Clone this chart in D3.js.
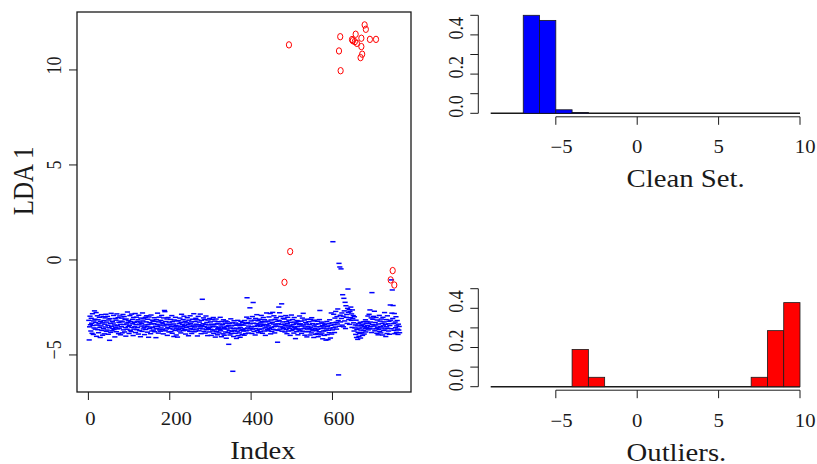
<!DOCTYPE html>
<html>
<head>
<meta charset="utf-8">
<script src="https://cdn.jsdelivr.net/npm/d3@7"></script>
<style>
  body { margin: 0; background: #fff; }
  #chart text { font-family: "Liberation Serif", "DejaVu Serif", serif; }
</style>
</head>
<body>
<svg id="chart" width="817" height="464"></svg>
<script>
// LDA 1 score of the clean set, in index order (1..765)
const cleanLda = [
  -3.18,-4.21,-3.52,-2.96,-3.41,-3.74,-3.07,-3.33,-3.86,-2.83,-3.45,-3.92,-3.21,-3.58,-2.68,-3.12,-3.64,-3.29,-2.77,-4.02,
  -3.43,-2.94,-3.67,-3.15,-3.83,-3.36,-3.02,-3.55,-4.08,-3.24,-3.47,-2.88,-3.71,-3.31,-3.96,-2.99,-3.62,-3.19,-3.89,-3.38,
  -3.05,-3.53,-2.86,-3.76,-3.27,-3.69,-2.97,-3.44,-3.91,-3.16,-3.57,-4.23,-3.09,-3.34,-3.81,-2.81,-3.49,-3.73,-3.23,-3.61,
  -3.32,-2.92,-3.66,-3.42,-4.05,-3.08,-3.54,-3.17,-3.78,-2.84,-3.46,-3.63,-3.04,-3.88,-3.28,-3.59,-2.95,-3.39,-3.94,-3.22,
  -3.51,-3.06,-3.84,-3.26,-2.87,-3.68,-3.40,-2.98,-3.79,-3.14,-3.56,-4.01,-3.11,-3.37,-3.65,-2.74,-3.30,-3.50,-3.20,-3.87,
  -3.44,-2.93,-3.70,-3.25,-3.77,-2.85,-3.55,-3.13,-3.36,-3.98,-3.03,-3.64,-3.28,-3.52,-2.82,-3.82,-3.41,-3.01,-3.67,-3.24,
  -3.56,-3.15,-3.90,-2.91,-3.38,-3.72,-3.27,-4.04,-3.06,-3.48,-3.33,-3.76,-2.79,-3.21,-3.63,-3.10,-3.54,-3.93,-3.42,-3.02,
  -3.66,-3.26,-2.94,-3.50,-3.80,-3.12,-3.40,-4.07,-3.00,-3.61,-3.30,-3.53,-3.88,-2.90,-3.37,-3.74,-3.17,-3.57,-3.22,-3.69,
  -3.35,-3.04,-3.78,-3.23,-3.49,-4.09,-3.14,-3.62,-3.39,-2.80,-3.51,-3.85,-3.26,-3.01,-3.68,-3.43,-3.75,-3.18,-3.58,-2.92,
  -3.29,-3.66,-3.36,-3.89,-3.05,-3.47,-2.66,-2.72,-3.73,-3.24,-3.41,-3.63,-3.11,-3.97,-3.55,-3.03,-3.38,-3.79,-3.27,-3.60,
  -3.42,-3.13,-3.77,-3.50,-2.93,-3.86,-3.25,-3.64,-3.37,-4.03,-3.16,-3.52,-3.71,-3.02,-3.44,-3.95,-3.59,-3.21,-4.06,-3.48,
  -3.19,-3.65,-3.34,-3.74,-3.06,-3.53,-3.84,-3.28,-2.86,-3.61,-3.39,-3.50,-3.14,-3.72,-2.96,-3.45,-3.67,-3.23,-3.90,-3.56,
  -3.31,-3.54,-3.04,-3.69,-3.40,-3.99,-3.17,-3.49,-3.76,-2.94,-3.35,-3.62,-3.26,-3.87,-3.51,-3.12,-3.66,-3.43,-2.83,-3.78,
  -3.53,-3.24,-3.75,-3.07,-3.38,-3.64,-3.15,-4.00,-3.48,-2.97,-3.41,-3.73,-3.27,-3.60,-2.85,-3.52,-3.88,-3.18,-3.44,-2.07,
  -3.63,-3.36,-3.05,-3.76,-3.50,-3.14,-3.85,-3.39,-2.95,-3.67,-3.29,-3.55,-3.98,-3.16,-3.61,-3.42,-3.79,-3.08,-3.54,-3.26,
  -3.65,-3.97,-3.38,-3.13,-3.74,-3.49,-3.03,-3.86,-3.41,-3.68,-3.22,-4.06,-3.52,-3.11,-3.77,-3.35,-3.94,-3.62,-3.25,-3.57,
  -3.84,-3.37,-3.66,-3.02,-3.73,-3.48,-4.04,-3.24,-3.63,-3.40,-3.89,-3.15,-3.55,-3.96,-3.60,-3.33,-3.79,-3.21,-4.12,-3.50,
  -3.64,-3.26,-3.83,-3.45,-4.44,-3.72,-3.35,-3.95,-3.58,-3.10,-3.87,-3.47,-3.76,-3.31,-5.86,-3.61,-4.03,-3.20,-3.70,-3.44,
  -3.86,-3.32,-3.59,-4.13,-3.42,-3.75,-3.18,-3.98,-3.63,-3.37,-3.84,-3.46,-4.07,-3.57,-3.23,-3.71,-3.40,-3.93,-3.30,-3.66,
  -3.74,-3.43,-3.96,-3.19,-3.62,-3.88,-3.34,-3.73,-3.01,-1.99,-3.58,-3.30,-3.85,-3.48,-3.09,-3.69,-2.52,-3.36,-3.60,-3.21,
  -3.52,-3.87,-2.98,-3.64,-2.24,-3.33,-3.76,-3.17,-3.49,-3.95,-3.08,-3.61,-3.35,-2.88,-3.72,-3.44,-3.20,-3.83,-3.38,-3.66,
  -3.12,-3.50,-3.78,-3.31,-2.92,-3.63,-3.24,-3.86,-3.45,-3.03,-3.39,-3.74,-3.15,-3.58,-3.97,-3.26,-3.53,-2.79,-3.41,-3.67,
  -3.22,-3.73,-3.47,-3.00,-3.62,-3.34,-2.82,-3.89,-3.16,-3.55,-3.76,-3.28,-2.76,-3.65,-3.37,-2.94,-3.51,-3.84,-3.13,-3.42,
  -3.68,-3.04,-3.49,-3.23,-4.33,-3.71,-3.36,-2.48,-3.18,-2.78,-3.64,-3.52,-2.97,-3.40,-2.31,-3.75,-3.26,-3.54,-3.07,-3.61,
  -3.38,-3.11,-3.79,-3.46,-2.93,-3.66,-3.25,-3.88,-3.35,-3.02,-3.53,-3.74,-3.17,-3.60,-3.43,-3.97,-3.28,-3.50,-2.90,-3.72,
  -3.49,-3.14,-3.65,-3.39,-3.85,-3.03,-3.56,-3.27,-4.14,-3.62,-3.33,-3.77,-3.19,-3.51,-3.94,-3.24,-3.67,-3.41,-2.95,-3.73,
  -3.36,-3.63,-3.22,-3.86,-3.48,-3.06,-3.75,-2.81,-3.42,-3.61,-3.16,-3.96,-3.53,-3.29,-3.78,-3.37,-4.05,-3.64,-3.12,-3.50,
  -3.76,-3.25,-3.60,-3.40,-3.95,-3.13,-3.54,-3.84,-3.04,-3.66,-3.35,-3.73,-3.21,-4.08,-3.47,-3.17,-3.62,-3.92,-3.38,-3.71,
  -3.52,-3.87,-3.23,-3.65,-4.04,-3.36,-3.78,-3.14,-2.66,-3.51,-3.94,-3.61,-3.27,-3.85,-3.46,-4.15,-3.33,-3.74,-3.58,-3.97,
  -3.39,-3.72,-3.48,-4.22,-3.63,-3.24,-3.93,-3.50,-4.19,-3.70,-3.35,-3.83,-3.15,-3.59,-4.11,-3.44,-2.79,-3.90,-3.31,-3.68,
  0.96,-3.57,-2.86,-3.41,-3.82,-3.06,-3.53,-2.71,-3.28,-3.64,-2.98,-3.37,-2.58,-3.19,-6.05,-0.18,-3.49,-0.37,-2.91,-3.26,
  -0.47,-3.08,-2.79,-3.43,-1.83,-2.96,-3.52,-2.02,-2.68,-3.21,-2.23,-3.61,-2.41,-3.02,-2.87,-3.34,-2.55,-1.53,-2.76,-3.13,
  -2.62,-3.39,-2.72,-3.04,-2.48,-3.18,-2.84,-3.55,-2.63,-3.09,-2.93,-3.31,-3.74,-2.99,-3.58,-3.42,-3.92,-3.17,-4.08,-3.66,
  -3.47,-4.18,-3.81,-3.36,-4.02,-3.59,-3.87,-3.28,-4.11,-3.69,-3.44,-3.83,-3.53,-3.97,-3.38,-3.72,-3.25,-3.90,-3.49,-3.62,
  -3.15,-3.79,-3.33,-3.57,-3.24,-3.46,-2.95,-3.68,-3.35,-2.86,-3.60,-2.63,-3.27,-3.51,-3.05,-3.82,-1.72,-3.40,-3.12,-3.63,
  -2.97,-3.48,-2.70,-3.73,-3.29,-3.42,-3.03,-3.61,-3.86,-3.16,-3.54,-3.94,-3.37,-3.65,-2.92,-3.76,-3.22,-3.50,-3.84,-3.11,
  -3.58,-3.34,-3.95,-3.02,-3.47,-3.71,-3.26,-2.77,-3.63,-3.39,-4.03,-3.14,-3.52,-3.87,-2.94,-3.60,-3.36,-3.74,-3.23,-3.91,
  -3.45,-2.37,-3.17,-3.62,-1.05,-2.80,-1.58,-3.08,-2.40,-3.35,-3.70,-2.82,-3.88,-3.27,-3.57,-2.99,-3.81,-3.47,-3.19,-3.64,
  -3.92,-3.38,-3.69,-3.50,-3.83
];

// flagged outliers: index and LDA 1 score
const outlierIdx = [482, 496, 493, 616, 619, 620, 648, 650, 655, 657, 660, 669, 671, 671, 673, 679, 682, 692, 707, 743, 748, 752];
const outlierLda = [-1.18, 0.44, 11.32, 11.0, 11.75, 9.96, 11.6, 11.54, 11.49, 11.88, 11.4, 10.65, 11.67, 11.23, 10.83, 12.37, 12.14, 11.61, 11.61, -1.05, -0.56, -1.32];

// histograms (bin width 1, density scale)
const cleanBinStart = [-7, -6, -5, -4];
const cleanDensity = [0.5, 0.474, 0.018, 0.004];
const outlierBinStart = [-4, -3, 7, 8, 9];
const outlierDensity = [0.19, 0.048, 0.048, 0.286, 0.429];

const indexTicks = [0, 200, 400, 600];
const ldaTicks = [-5, 0, 5, 10];
const histXTicks = [-5, 0, 5, 10];
const histYTicks = [0, 0.1, 0.2, 0.3, 0.4, 0.5];
const histYLabels = [0, 0.2, 0.4];

const SX = 1.15; // the reference picture is a little stretched sideways
const INK = "#1a1a1a";
const TICK = 8;

const svg = d3.select("#chart");

const fmt = d => d < 0 ? "\u2212" + Math.abs(d) : String(d);

function addText(parent, x, y, str, size, rotate, anchor) {
    let tf = `translate(${x},${y}) scale(${SX},1)`;
    if (rotate) tf += ` rotate(${rotate})`;
    return parent.append("text")
        .attr("transform", tf)
        .attr("text-anchor", anchor || "middle")
        .attr("font-size", size)
        .attr("fill", INK)
        .text(str);
}

// ---------- left panel: LDA 1 vs index ----------
const x = d3.scaleLinear().domain([-28, 793]).range([77, 411]);
const y = d3.scaleLinear().domain([-6.95, 13.05]).range([392, 12]);

const left = svg.append("g");

left.append("g")
    .selectAll("rect")
    .data(cleanLda)
    .join("rect")
    .attr("x", (d, i) => x(i + 1) - 2.6)
    .attr("y", d => y(d) - 0.75)
    .attr("width", 5.2)
    .attr("height", 1.5)
    .attr("fill", "#0000ff");

left.append("g")
    .selectAll("ellipse")
    .data(outlierIdx)
    .join("ellipse")
    .attr("cx", d => x(d))
    .attr("cy", (d, i) => y(outlierLda[i]))
    .attr("rx", 2.6)
    .attr("ry", 3.2)
    .attr("fill", "none")
    .attr("stroke", "#ff0000")
    .attr("stroke-width", 1);

left.append("rect")
    .attr("x", x.range()[0]).attr("y", y.range()[1])
    .attr("width", x.range()[1] - x.range()[0])
    .attr("height", y.range()[0] - y.range()[1])
    .attr("fill", "none")
    .attr("stroke", INK)
    .attr("stroke-width", 1.3);

const x0 = x.range()[0], yb = y.range()[0];

left.selectAll(".ytick")
    .data(ldaTicks)
    .join("line")
    .attr("x1", x0 - TICK).attr("x2", x0)
    .attr("y1", d => y(d)).attr("y2", d => y(d))
    .attr("stroke", INK);

ldaTicks.forEach(t => addText(left, 61, y(t) + 4.5, fmt(t), 18, -90, "start"));

left.selectAll(".xtick")
    .data(indexTicks)
    .join("line")
    .attr("x1", d => x(d)).attr("x2", d => x(d))
    .attr("y1", yb).attr("y2", yb + TICK)
    .attr("stroke", INK);

indexTicks.forEach(t => {
    const s = fmt(t);
    addText(left, x(t) + 2 + (s.length - 1) * 2.3, 425, s, 18);
});

addText(left, 263, 459, "Index", 25);
addText(left, 33, 181, "LDA 1", 25, -90);

// ---------- right panels: histograms ----------
const hx = d3.scaleLinear().domain([-9, 10]).range([490.7, 800]);

function drawHist(y0, binStart, density, color, title) {
    const hy = d3.scaleLinear().domain([0, 0.5]).range([y0, y0 - 98]);
    const g = svg.append("g");

    g.append("line")
        .attr("x1", hx(-9)).attr("x2", hx(10))
        .attr("y1", y0).attr("y2", y0)
        .attr("stroke", INK)
        .attr("stroke-width", 1.6);

    g.selectAll("rect")
        .data(binStart)
        .join("rect")
        .attr("x", d => hx(d))
        .attr("width", d => hx(d + 1) - hx(d))
        .attr("y", (d, i) => hy(density[i]))
        .attr("height", (d, i) => y0 - hy(density[i]))
        .attr("fill", color)
        .attr("stroke", INK)
        .attr("stroke-width", 0.8);

    // y axis
    const ax = 478.3;
    g.append("line")
        .attr("x1", ax).attr("x2", ax)
        .attr("y1", hy(0)).attr("y2", hy(0.5))
        .attr("stroke", INK);
    g.selectAll(".yt")
        .data(histYTicks)
        .join("line")
        .attr("x1", ax - TICK).attr("x2", ax)
        .attr("y1", d => hy(d)).attr("y2", d => hy(d))
        .attr("stroke", INK);
    histYLabels.forEach(t => addText(g, 462.8, hy(t) + 4.5, t.toFixed(1), 18, -90, "start"));

    // x axis
    const ay = y0 + 3.5;
    g.append("line")
        .attr("x1", hx(-5)).attr("x2", hx(10))
        .attr("y1", ay).attr("y2", ay)
        .attr("stroke", INK);
    g.selectAll(".xt")
        .data(histXTicks)
        .join("line")
        .attr("x1", d => hx(d)).attr("x2", d => hx(d))
        .attr("y1", ay).attr("y2", ay + TICK)
        .attr("stroke", INK);
    histXTicks.forEach(t => addText(g, hx(t) - 5.2, y0 + 40, fmt(t), 18, 0, "start"));

    addText(g, 626.5, y0 + 74, title, 25, 0, "start");
}

drawHist(113.3, cleanBinStart, cleanDensity, "#0000ff", "Clean Set.");
drawHist(386.7, outlierBinStart, outlierDensity, "#ff0000", "Outliers.");
</script>
</body>
</html>
